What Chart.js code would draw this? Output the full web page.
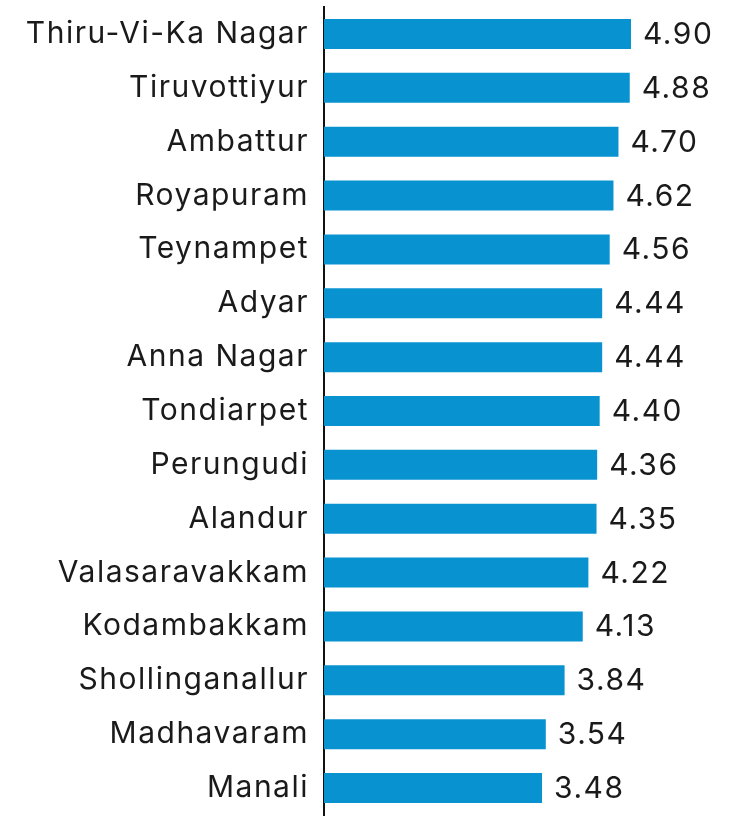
<!DOCTYPE html>
<html>
<head>
<meta charset="utf-8">
<script src="https://cdn.jsdelivr.net/npm/chart.js@4"></script>
<style>
  html, body { margin: 0; padding: 0; background: #fff; }
  canvas { display: block; }
</style>
</head>
<body>
<canvas id="c" width="735" height="819"></canvas>
<script>
var zones = ["Thiru-Vi-Ka Nagar", "Tiruvottiyur", "Ambattur", "Royapuram", "Teynampet",
  "Adyar", "Anna Nagar", "Tondiarpet", "Perungudi", "Alandur", "Valasaravakkam",
  "Kodambakkam", "Shollinganallur", "Madhavaram", "Manali"];
var scores = [4.90, 4.88, 4.70, 4.62, 4.56, 4.44, 4.44, 4.40, 4.36, 4.35, 4.22, 4.13, 3.84, 3.54, 3.48];

var FONT = "Inter, sans-serif";

// wider tracking, the original face is a wide geometric sans
var tracking = {
  id: "tracking",
  beforeDraw: function(chart) { chart.ctx.letterSpacing = "1.5px"; }
};

// value labels to the right of each bar
var valueLabels = {
  id: "valueLabels",
  afterDatasetsDraw: function(chart) {
    var ctx = chart.ctx;
    var meta = chart.getDatasetMeta(0);
    ctx.save();
    ctx.letterSpacing = "1.5px";
    ctx.font = "30px " + FONT;
    ctx.fillStyle = "#1a1a1a";
    ctx.textAlign = "left";
    ctx.textBaseline = "middle";
    meta.data.forEach(function(bar, i) {
      ctx.fillText(scores[i].toFixed(2), bar.x + 12, bar.y + 1);
    });
    ctx.restore();
  }
};

new Chart(document.getElementById("c"), {
  type: "bar",
  data: {
    labels: zones,
    datasets: [{
      data: scores,
      backgroundColor: "#0892d0",
      borderWidth: 0,
      barPercentage: 0.557,
      categoryPercentage: 1
    }]
  },
  options: {
    indexAxis: "y",
    responsive: false,
    animation: false,
    layout: { padding: { top: 7, bottom: 4, left: 0, right: 0 } },
    plugins: { legend: { display: false }, tooltip: { enabled: false } },
    scales: {
      x: {
        display: false,
        min: 0,
        max: 6.56
      },
      y: {
        afterFit: function(scale) {
          scale.width = 324;
          scale.paddingTop = 0;
          scale.paddingBottom = 0;
        },
        grid: { display: false, drawTicks: false },
        border: { display: true, color: "#111", width: 2 },
        ticks: {
          color: "#1a1a1a",
          padding: 15,
          font: { family: FONT, size: 30 }
        }
      }
    }
  },
  plugins: [tracking, valueLabels]
});
</script>
</body>
</html>
